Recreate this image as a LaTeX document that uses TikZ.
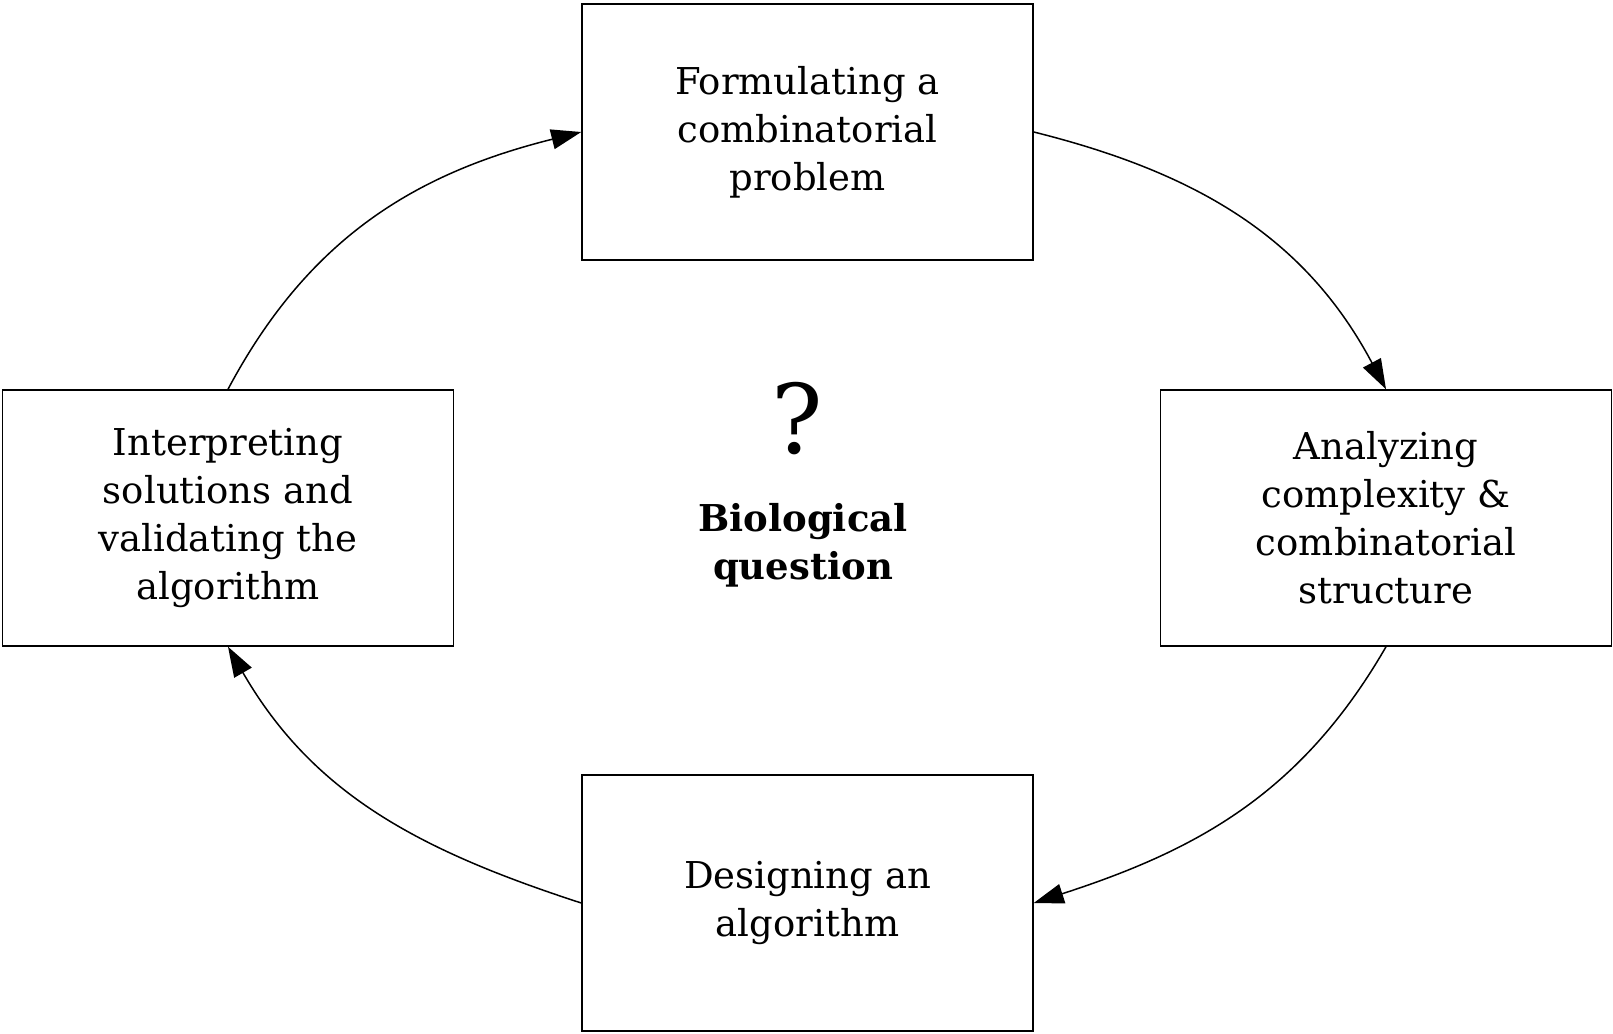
\documentclass[tikz,border=0pt]{standalone}
\usepackage{fontspec}
\setmainfont{DejaVu Serif}
\usetikzlibrary{arrows.meta}
\begin{document}
\begin{tikzpicture}[x=0.5pt,y=-0.5pt,
  stage/.style={draw=black, line width=0.75pt, minimum width=225.5pt, minimum height=128pt,
    inner sep=0pt, align=center, font=\fontsize{18.5}{24}\selectfont},
  flow/.style={line width=0.75pt, -{Triangle[length=15pt,width=10pt]}}]
\useasboundingbox (0,0) rectangle (1613,1034);
\node[stage] (form) at (807.5,132) {Formulating a\\combinatorial\\problem};
\node[stage] (anal) at (1386,518) {Analyzing\\complexity \&\\combinatorial\\structure};
\node[stage] (design) at (807.5,903) {Designing an\\algorithm};
\node[stage] (interp) at (228,518) {Interpreting\\solutions and\\validating the\\algorithm};
\node[font=\fontsize{48}{54}\selectfont] (qm) at (797,419) {?};
\node[align=center, font=\fontsize{18.5}{24}\selectfont\bfseries] (bio) at (803,545) {Biological\\question};
\draw[flow] (form.east) to[out=-14,in=118] (anal.north);
\draw[flow] (anal.south) to[out=-120,in=18] (design.east);
\draw[flow] (design.west) to[out=162,in=-60] (interp.south);
\draw[flow] (interp.north) to[out=62,in=194] (form.west);
\end{tikzpicture}
\end{document}
